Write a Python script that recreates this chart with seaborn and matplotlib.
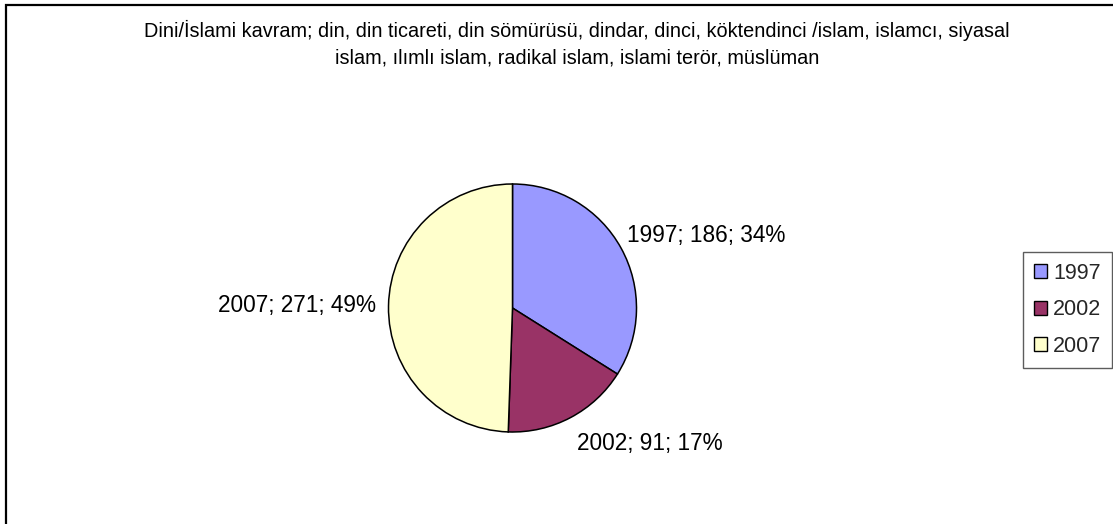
import numpy as np
import matplotlib
matplotlib.use("Agg")
import matplotlib.pyplot as plt
import matplotlib.patches as mpatches
import seaborn as sns

# data
years = ["1997", "2002", "2007"]
counts = [186, 91, 271]
colors = ["#9999FF", "#993366", "#FFFFCC"]
title = ("Dini/İslami kavram; din, din ticareti, din sömürüsü, dindar, dinci, köktendinci /islam, islamcı, siyasal\n"
         "islam, ılımlı islam, radikal islam, islami terör, müslüman")

sns.set_theme(style="white")
plt.rcParams['font.family'] = ['Liberation Sans', 'DejaVu Sans']

W, H = 1113, 524
fig = plt.figure(figsize=(W / 100, H / 100), dpi=100)
fig.patch.set_facecolor("white")

# outer border (only left and top visible in the crop)
fig.patches.append(mpatches.Rectangle((6 / W, -0.2), 1.2, (H - 5) / H + 0.2,
                                      transform=fig.transFigure, fill=False,
                                      edgecolor="black", linewidth=1.6))

fig.text(577 / W, 1 - 44 / H, title, ha="center", va="center",
         fontsize=14.3, linespacing=1.5, color="black")

# pie axes
cx, cy, r = 512.5, 308, 124
ax = fig.add_axes([(cx - r) / W, (H - cy - r) / H, 2 * r / W, 2 * r / H])
pal = sns.color_palette(colors)
total = sum(counts)
wedges, _ = ax.pie(counts, colors=pal, startangle=90, counterclock=False,
                   wedgeprops=dict(edgecolor="black", linewidth=1.1))
ax.set_xlim(-1, 1)
ax.set_ylim(-1, 1)
ax.set_aspect("equal")
ax.axis("off")

# label distance from centre and small pixel nudges
dists = [1.12, 1.2, 1.1]
nudges = [(-7, 5), (-5, -4), (0, 0)]
for w, yr, c, d, (nx, ny) in zip(wedges, years, counts, dists, nudges):
    ang = np.deg2rad((w.theta1 + w.theta2) / 2)
    x, y = d * np.cos(ang), d * np.sin(ang)
    pct = round(100 * c / total)
    ax.annotate(f"{yr}; {c}; {pct}%", xy=(x, y), xytext=(nx, ny),
                textcoords="offset pixels", ha="left" if x > 0 else "right",
                va="center", fontsize=16.3, color="black", annotation_clip=False)

handles = [mpatches.Patch(facecolor=col, edgecolor="black", linewidth=1.0) for col in pal]
leg = fig.legend(handles, years, loc="upper left",
                 bbox_to_anchor=(1023 / W, 1 - 252 / H),
                 fontsize=15.5, frameon=True, fancybox=False, shadow=False,
                 handlelength=0.6, handleheight=0.6, handletextpad=0.3,
                 labelspacing=0.72, borderpad=0.5, borderaxespad=0)
leg.get_frame().set_edgecolor("#333333")
leg.get_frame().set_linewidth(1.0)

fig.savefig("out.png", dpi=100)
